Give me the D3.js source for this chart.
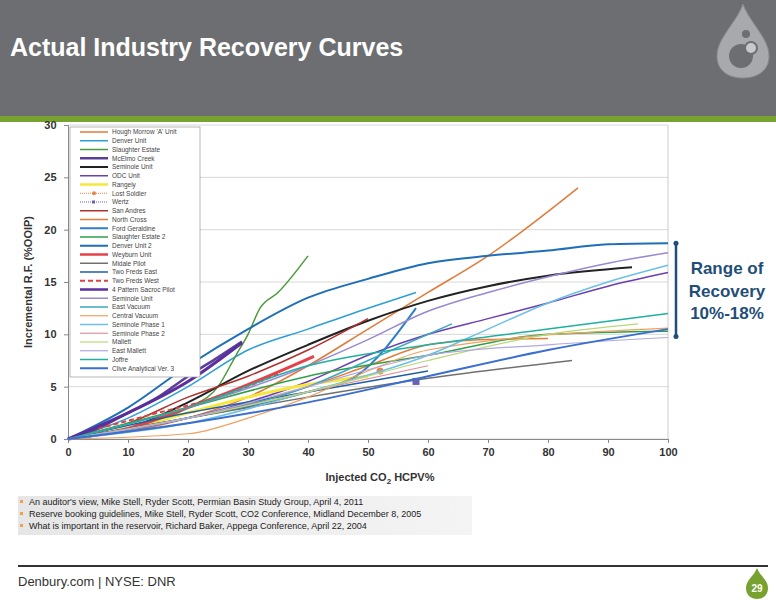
<!DOCTYPE html>
<html><head><meta charset="utf-8">
<script src="https://cdnjs.cloudflare.com/ajax/libs/d3/7.8.5/d3.min.js"></script>
<style>body{margin:0;background:#fff}svg{display:block}</style>
</head><body>
<script>
const xTicks=[0,10,20,30,40,50,60,70,80,90,100];
const yTicks=[0,5,10,15,20,25,30];
const seriesNames=["Hough Morrow 'A' Unit","Denver Unit","Slaughter Estate","McElmo Creek","Seminole Unit","ODC Unit","Rangely","Lost Soldier","Wertz","San Andres","North Cross","Ford Geraldine","Slaughter Estate 2","Denver Unit 2","Weyburn Unit","Midale Pilot","Two Freds East","Two Freds West","4 Pattern Sacroc Pilot","Seminole Unit","East Vacuum","Central Vacuum","Seminole Phase 1","Seminole Phase 2","Mallett","East Mallett","Joffre","Clive Analytical Ver. 3"];
const seriesColors=["#e07b39","#2e9fd6","#4c9a3c","#5a3f96","#222222","#6a3fb0","#f5e83a","#e8834a","#6a5cc0","#b03030","#e07b39","#2f7fc8","#2ea04a","#1f6fb8","#e8404a","#707070","#1f5fa8","#e04040","#5b2e9e","#9a88d0","#3aa8c0","#f0a060","#6cc0e8","#e0909a","#b8d878","#b0a8e0","#20b0a0","#3a6ed0"];
const seriesWidths=[1.5,1.5,1.5,2.5,2,1.5,3,1,1,1.5,1.5,2,1.5,2,3,1.5,1.5,2,3,1.5,1.5,1.2,1.5,1.2,1.2,1.2,1.5,2];
const seriesData=[
[[0,0],[20,2],[30,4],[40,7],[50,10.5],[60,14],[70,17.5],[85,24]],
[[0,0],[10,2],[20,5],[30,8.5],[40,10.5],[50,12.5],[58,14]],
[[0,0],[10,1],[20,3],[25,5],[28,8],[30,10],[32,12.5],[35,14],[40,17.5]],
[[0,0],[5,1],[10,2.5],[15,4],[20,6],[25,7.8],[29,9.3]],
[[0,0],[10,1],[20,3.5],[30,6.5],[40,9],[50,11.3],[60,13.2],[70,14.6],[80,15.6],[94,16.4]],
[[0,0],[20,2],[40,5.5],[50,8],[60,10],[70,11.5],[80,13],[90,14.6],[100,15.9]],
[[0,0],[10,1],[20,2.5],[30,4],[40,5.2],[50,6]],
[[52,6.5]],
[[58,5.5]],
[[0,0],[10,1.5],[20,4],[30,6],[40,8.5],[50,11.5]],
[[0,0],[20,2],[40,5],[50,7],[60,9],[70,9.5],[80,9.6]],
[[0,0],[20,2],[40,4.5],[48,6],[58,12.5]],
[[0,0],[20,3],[40,6],[60,8],[80,10],[100,10.3]],
[[0,0],[10,3],[20,7],[30,10.5],[40,13.5],[50,15.3],[60,16.8],[70,17.5],[80,18],[90,18.6],[100,18.7]],
[[0,0],[10,1],[20,3],[30,5.2],[41,7.9]],
[[0,0],[20,2],[40,4],[60,5.8],[84,7.5]],
[[0,0],[20,2.5],[40,4.5],[60,6.5]],
[[5,1],[15,2.5],[25,4],[35,6.2]],
[[0,0],[10,2.5],[20,5.5],[29,9.2]],
[[0,0],[20,3],[40,7],[50,9.5],[60,12.2],[70,14],[80,15.5],[90,16.8],[100,17.8]],
[[0,0],[20,2],[40,5],[50,7.5],[64,11]],
[[0,0],[20,0.5],[30,2],[40,4],[50,6.5],[60,8.5],[100,10.6]],
[[0,0],[20,1.5],[40,4.5],[60,8],[70,10.5],[80,13],[90,15],[100,16.6]],
[[0,0],[20,2],[40,4.5],[60,7]],
[[0,0],[20,2],[40,4.5],[60,7.5],[80,10],[95,11]],
[[0,0],[20,2],[40,5],[60,8],[80,9],[100,9.7]],
[[0,0],[20,3],[40,7],[60,9],[80,10.5],[100,12]],
[[0,0],[20,1.5],[40,3.5],[60,6],[80,8.5],[100,10.5]]
];
const refs=["An auditor's view, Mike Stell,  Ryder Scott, Permian Basin Study Group, April 4, 2011","Reserve booking guidelines, Mike Stell, Ryder Scott, CO2 Conference, Midland December 8, 2005","What is important in the reservoir, Richard Baker, Appega Conference, April 22, 2004"];

const svg=d3.select("body").append("svg").attr("width",776).attr("height",600);
svg.append("rect").attr("width",776).attr("height",116).attr("fill","#6d6e71");
svg.append("rect").attr("y",116).attr("width",776).attr("height",6).attr("fill","#78a22f");
svg.append("text").attr("x",10).attr("y",56).attr("fill","#fff").attr("font-family","Liberation Sans, Arial").attr("font-weight","bold").attr("font-size",25).text("Actual Industry Recovery Curves");
// logo
const lg=svg.append("g").attr("transform","translate(743,0)");
lg.append("path").attr("d","M0,4 C6,22 26,38 26,56 C26,71 14,78 0,78 C-14,78 -26,71 -26,56 C-26,38 -6,22 0,4Z").attr("fill","#a7a9ac").attr("stroke","#8a8c8f");
lg.append("circle").attr("cx",-2).attr("cy",56).attr("r",12).attr("fill","#6d6e71");
lg.append("circle").attr("cx",3).attr("cy",34).attr("r",4).attr("fill","#6d6e71");
lg.append("circle").attr("cx",8).attr("cy",48).attr("r",6).attr("fill","#c8c9cb").attr("stroke","#6d6e71").attr("stroke-width",2);

const x=d3.scaleLinear().domain([0,100]).range([68,668]);
const y=d3.scaleLinear().domain([0,30]).range([439,125]);
const g=svg.append("g");
g.append("g").selectAll("line").data(yTicks).join("line").attr("x1",68).attr("x2",668).attr("y1",d=>y(d)).attr("y2",d=>y(d)).attr("stroke","#d8d8d8");
g.append("line").attr("x1",668).attr("x2",668).attr("y1",125).attr("y2",439).attr("stroke","#ccc");
g.append("g").attr("transform","translate(0,439)").call(d3.axisBottom(x).tickValues(xTicks).tickSize(4).tickFormat(d3.format("d")))
 .call(a=>{a.select(".domain").attr("stroke","#888");a.selectAll("line").attr("stroke","#888");a.selectAll("text").attr("font-family","Liberation Sans, Arial").attr("font-weight","bold").attr("font-size",11).attr("fill","#333").attr("dy","0.9em");});
g.append("g").attr("transform","translate(68,0)").call(d3.axisLeft(y).tickValues(yTicks).tickSize(4))
 .call(a=>{a.select(".domain").attr("stroke","#888");a.selectAll("line").attr("stroke","#888");a.selectAll("text").attr("font-family","Liberation Sans, Arial").attr("font-weight","bold").attr("font-size",11).attr("fill","#333").attr("dx","-0.4em");});
const line=d3.line().x(d=>x(d[0])).y(d=>y(d[1])).curve(d3.curveMonotoneX);
seriesData.forEach((s,i)=>{
 if(s.length===1){
  if(i===8) g.append("rect").attr("x",x(s[0][0])-3.5).attr("y",y(s[0][1])-3.5).attr("width",7).attr("height",7).attr("fill",seriesColors[i]);
  else g.append("circle").attr("cx",x(s[0][0])).attr("cy",y(s[0][1])).attr("r",3.5).attr("fill",seriesColors[i]);
 } else g.append("path").attr("d",line(s)).attr("fill","none").attr("stroke",seriesColors[i]).attr("stroke-width",seriesWidths[i]).attr("stroke-dasharray",i===17?"5,3":null);
});
// legend
const lgd=svg.append("g");
lgd.append("rect").attr("x",70).attr("y",127).attr("width",130).attr("height",250).attr("fill","#fff").attr("stroke","#999").attr("stroke-width",0.7);
seriesNames.forEach((n,i)=>{
 const yy=132+i*8.75;
 lgd.append("line").attr("x1",80).attr("x2",108).attr("y1",yy).attr("y2",yy).attr("stroke",seriesColors[i]).attr("stroke-width",Math.min(seriesWidths[i],2.5)).attr("stroke-dasharray",i===17?"5,3":(i===7||i===8)?"1,1":null);
 if(i===7) lgd.append("circle").attr("cx",94).attr("cy",yy).attr("r",2).attr("fill",seriesColors[i]);
 if(i===8) lgd.append("rect").attr("x",92).attr("y",yy-1.5).attr("width",3).attr("height",3).attr("fill",seriesColors[i]);
 lgd.append("text").attr("x",112).attr("y",yy+2.3).attr("font-family","Liberation Sans, Arial").attr("font-size",6.5).attr("fill","#444").text(n);
});
svg.append("text").attr("transform","translate(32,282) rotate(-90)").attr("text-anchor","middle").attr("font-family","Liberation Sans, Arial").attr("font-weight","bold").attr("font-size",11).attr("fill","#333").text("Incremental R.F. (%OOIP)");
const xl=svg.append("text").attr("x",380).attr("y",481).attr("text-anchor","middle").attr("font-family","Liberation Sans, Arial").attr("font-weight","bold").attr("font-size",11).attr("fill","#333");
xl.append("tspan").text("Injected CO");xl.append("tspan").attr("font-size",8).attr("dy",3).text("2");xl.append("tspan").attr("dy",-3).text(" HCPV%");
// bracket
const bc="#1f4e79";
svg.append("line").attr("x1",676).attr("x2",676).attr("y1",y(18.7)).attr("y2",y(9.8)).attr("stroke",bc).attr("stroke-width",2.5);
[18.7,9.8].forEach(v=>svg.append("circle").attr("cx",676).attr("cy",y(v)).attr("r",2.5).attr("fill",bc));
["Range of","Recovery","10%-18%"].forEach((t,i)=>svg.append("text").attr("x",727).attr("y",274+i*22.5).attr("text-anchor","middle").attr("font-family","Liberation Sans, Arial").attr("font-weight","bold").attr("font-size",17).attr("fill",bc).text(t));
// refs
const grd=svg.append("defs").append("linearGradient").attr("id","gr");
grd.append("stop").attr("offset","0").attr("stop-color","#e6e6e6");grd.append("stop").attr("offset","1").attr("stop-color","#f4f4f4");
svg.append("rect").attr("x",18).attr("y",496).attr("width",454).attr("height",39).attr("fill","url(#gr)");
refs.forEach((t,i)=>{
 svg.append("rect").attr("x",20).attr("y",500+i*12).attr("width",3).attr("height",3).attr("fill","#f0a050");
 svg.append("text").attr("x",29).attr("y",505+i*12).attr("font-family","Liberation Sans Narrow, Liberation Sans, Arial").attr("font-size",9).attr("fill","#222").text(t);
});
svg.append("line").attr("x1",18).attr("x2",768).attr("y1",566).attr("y2",566).attr("stroke","#333").attr("stroke-width",2);
svg.append("text").attr("x",18).attr("y",586).attr("font-family","Liberation Sans Narrow, Liberation Sans, Arial").attr("font-size",13).attr("fill","#333").text("Denbury.com | NYSE: DNR");
svg.append("path").attr("d","M757,568 C760,576 768,580 768,588 C768,595 763,599 757,599 C751,599 746,595 746,588 C746,580 754,576 757,568Z").attr("fill","#78a22f");
svg.append("text").attr("x",757).attr("y",592).attr("text-anchor","middle").attr("font-family","Liberation Sans, Arial").attr("font-weight","bold").attr("font-size",10).attr("fill","#fff").text("29");
</script></body></html>
